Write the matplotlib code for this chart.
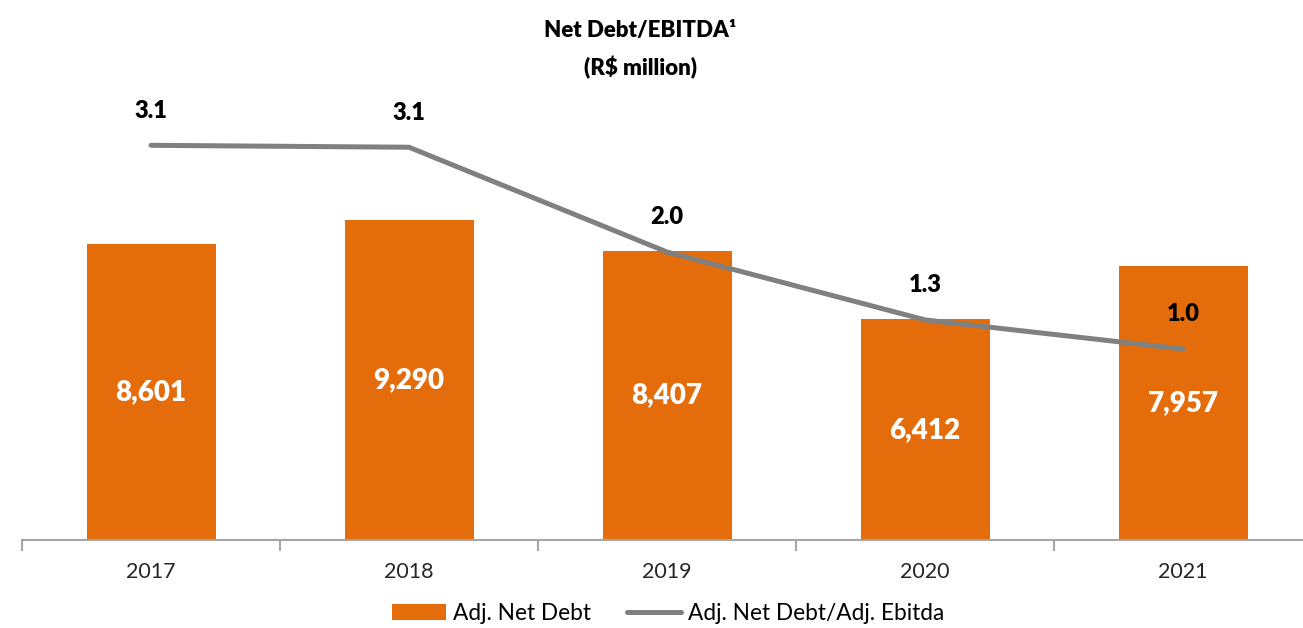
import matplotlib
matplotlib.use('Agg')
import matplotlib.pyplot as plt
import numpy as np

# data
years = ['2017', '2018', '2019', '2020', '2021']
net_debt = [8601, 9290, 8407, 6412, 7957]
ratio = [3.1, 3.08, 2.0, 1.3, 1.0]
ratio_labels = ['3.1', '3.1', '2.0', '1.3', '1.0']

plt.rcParams['font.family'] = ['Lato', 'DejaVu Sans']

W, H = 1303, 628
fig = plt.figure(figsize=(W / 100, H / 100), dpi=100)
ax = fig.add_axes([22 / W, (H - 540) / H, (W - 22) / W, 450 / H])

x = np.arange(len(years))
orange = '#E46C0A'
gray = '#808080'

bars = ax.bar(x, net_debt, width=0.5, color=orange, label='Adj. Net Debt', zorder=2)
for xi, v in zip(x, net_debt):
    ax.text(xi, v / 2, f'{v:,}', color='white', fontsize=20, fontweight='heavy',
            ha='center', va='center', zorder=3)

ax.set_ylim(0, 450 / 0.0344)
ax.set_yticks([])
for s in ['top', 'right', 'left']:
    ax.spines[s].set_visible(False)
ax.spines['bottom'].set_color('#A6A6A6')
ax.spines['bottom'].set_linewidth(1.5)
ax.set_xticks(np.arange(-0.5, 5, 1))
ax.set_xticklabels([])
ax.tick_params(axis='x', length=8, color='#A6A6A6', width=1.5)
for xi, yr in zip(x, years):
    ax.text(xi, -0.07, yr, transform=ax.get_xaxis_transform(), ha='center', va='center',
            fontsize=15.5, color='#262626')

ax2 = ax.twinx()
line, = ax2.plot(x, ratio, color=gray, linewidth=3.6, solid_capstyle='round',
                 label='Adj. Net Debt/Adj. Ebitda', zorder=4)
ax2.set_ylim((446 - 540) / 97, (446 - 90) / 97)
for xi, v, lab in zip(x, ratio, ratio_labels):
    ax2.annotate(lab, (xi, v), xytext=(0, 17), textcoords='offset points',
                 ha='center', va='bottom', fontsize=17, fontweight='heavy', color='black')
ax2.axis('off')
# x limits last, the twin axis shares x and rescales it when plotting
ax.set_xlim(-0.5, 4.465)

fig.text(640 / W, 1 - 30 / H, 'Net Debt/EBITDA\u00b9', ha='center', va='center',
         fontsize=16, fontweight='heavy')
fig.text(640 / W, 1 - 68 / H, '(R$ million)', ha='center', va='center',
         fontsize=16, fontweight='heavy')

fig.legend([bars, line], ['Adj. Net Debt', 'Adj. Net Debt/Adj. Ebitda'],
           loc='center', bbox_to_anchor=(668 / W, 1 - 613 / H), ncol=2, frameon=False,
           fontsize=16.3, handlelength=2.4, handletextpad=0.3, columnspacing=1.6)

fig.savefig('out.png', dpi=100)
